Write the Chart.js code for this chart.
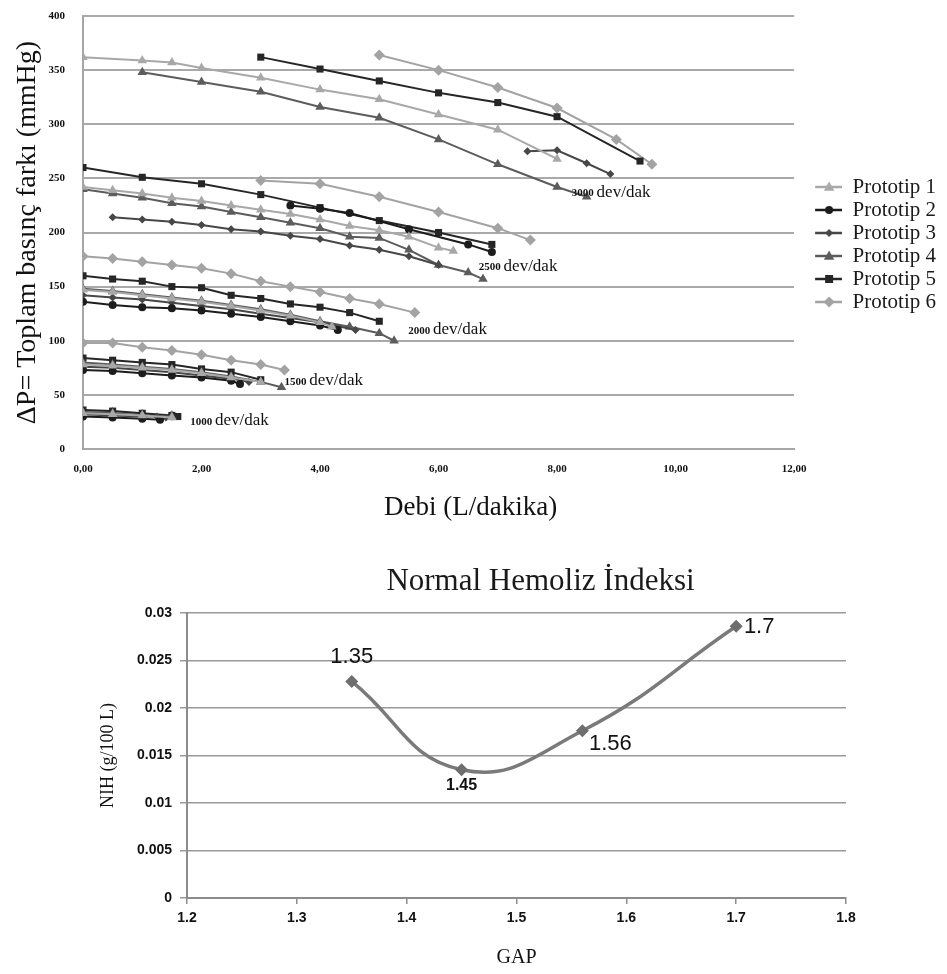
<!DOCTYPE html>
<html>
<head>
<meta charset="utf-8">
<script src="https://cdn.jsdelivr.net/npm/chart.js@4.4.0/dist/chart.umd.min.js"></script>
<style>
  body { margin: 0; background: #fff; }
  canvas { display: block; }
</style>
</head>
<body>
<canvas id="basinc" width="947" height="540"></canvas>
<canvas id="hemoliz" width="947" height="434"></canvas>
<script>
// ── Data: pressure head vs flow, one array pair per prototype (null = break between rpm groups) ──
const p1Debi   = [0, 1, 1.5, 2, 3, 4, 5, 6, 7, 8, null, 0, 0.5, 1, 1.5, 2, 2.5, 3, 3.5, 4, 4.5, 5, 5.5, 6, 6.25, null, 0, 0.5, 1, 1.5, 2, 2.5, 3, 3.5, 4, 4.2, null, 0, 0.5, 1, 1.5, 2, 2.5, 3, null, 0, 0.5, 1, 1.5];
const p1Basinc = [362, 359, 357, 352, 343, 332, 323, 309, 295, 268, null, 242, 239, 236, 232, 229, 225, 221, 217, 212, 206, 202, 196, 186, 183, null, 147, 145, 142, 139, 136, 132, 128, 123, 117, 113, null, 78, 77, 75, 73, 70, 66, 62, null, 33, 32, 31, 29];

const p2Debi   = [3.5, 4, 4.5, 5.5, 6.5, 6.9, null, 0, 0.5, 1, 1.5, 2, 2.5, 3, 3.5, 4, 4.3, null, 0, 0.5, 1, 1.5, 2, 2.5, 2.65, null, 0, 0.5, 1, 1.3];
const p2Basinc = [225, 222, 218, 203, 189, 182, null, 136, 133, 131, 130, 128, 125, 122, 118, 114, 110, null, 73, 72, 70, 68, 66, 63, 60, null, 30, 29, 28, 27];

const p3Debi   = [7.5, 8, 8.5, 8.9, null, 0.5, 1, 1.5, 2, 2.5, 3, 3.5, 4, 4.5, 5, 5.5, 6, null, 0, 0.5, 1, 1.5, 2, 2.5, 3, 3.5, 4, 4.6, null, 0, 0.5, 1, 1.5, 2, 2.5, 2.8, null, 0, 0.5, 1, 1.25, 1.4];
const p3Basinc = [275, 276, 264, 254, null, 214, 212, 210, 207, 203, 201, 197, 194, 188, 184, 178, 170, null, 142, 140, 138, 135, 132, 129, 125, 121, 117, 110, null, 76, 75, 73, 71, 68, 65, 62, null, 32, 31, 30, 30, 29];

const p4Debi   = [1, 2, 3, 4, 5, 6, 7, 8, 8.5, null, 0, 0.5, 1, 1.5, 2, 2.5, 3, 3.5, 4, 4.5, 5, 5.5, 6, 6.5, 6.75, null, 0, 0.5, 1, 1.5, 2, 2.5, 3, 3.5, 4, 4.5, 5, 5.25, null, 0, 0.5, 1, 1.5, 2, 2.5, 3, 3.35, null, 0, 0.5, 1, 1.5];
const p4Basinc = [348, 339, 330, 316, 306, 286, 263, 242, 233, null, 240, 236, 232, 227, 224, 219, 214, 209, 204, 196, 195, 184, 170, 163, 157, null, 148, 146, 143, 140, 137, 133, 129, 124, 118, 113, 107, 100, null, 80, 78, 76, 74, 71, 67, 62, 57, null, 34, 33, 31, 30];

const p5Debi   = [3, 4, 5, 6, 7, 8, 9.4, null, 0, 1, 2, 3, 4, 5, 6, 6.9, null, 0, 0.5, 1, 1.5, 2, 2.5, 3, 3.5, 4, 4.5, 5, null, 0, 0.5, 1, 1.5, 2, 2.5, 3, null, 0, 0.5, 1, 1.5, 1.6];
const p5Basinc = [362, 351, 340, 329, 320, 307, 266, null, 260, 251, 245, 235, 223, 211, 200, 189, null, 160, 157, 155, 150, 149, 142, 139, 134, 131, 126, 118, null, 84, 82, 80, 78, 74, 71, 64, null, 36, 35, 33, 31, 30];

const p6Debi   = [5, 6, 7, 8, 9, 9.6, null, 3, 4, 5, 6, 7, 7.55, null, 0, 0.5, 1, 1.5, 2, 2.5, 3, 3.5, 4, 4.5, 5, 5.6, null, 0, 0.5, 1, 1.5, 2, 2.5, 3, 3.4, null, 0, 0.5, 1, 1.5];
const p6Basinc = [364, 350, 334, 315, 286, 263, null, 248, 245, 233, 219, 204, 193, null, 178, 176, 173, 170, 167, 162, 155, 150, 145, 139, 134, 126, null, 98, 98, 94, 91, 87, 82, 78, 73, null, 35, 34, 32, 31];

const prototypes = ["Prototip 1", "Prototip 2", "Prototip 3", "Prototip 4", "Prototip 5", "Prototip 6"];
const rpmLabels = ["3000", "2500", "2000", "1500", "1000"];
const yTicks1 = [0, 50, 100, 150, 200, 250, 300, 350, 400];

// ── Data: normal hemolysis index vs gap ──
const gap = [1.35, 1.45, 1.56, 1.7];
const nih = [0.0228, 0.0135, 0.0176, 0.0286];

// styles (kept apart from the data)
const seriesStyle = [
  { color: "#a8a8a8", shape: "triangle", r: 5.5 },
  { color: "#1c1c1c", shape: "circle",   r: 4 },
  { color: "#474747", shape: "rectRot",  r: 4 },
  { color: "#5c5c5c", shape: "triangle", r: 5.5 },
  { color: "#262626", shape: "rect",     r: 5 },
  { color: "#a3a3a3", shape: "rectRot",  r: 5.5 },
];
// rpm label anchors in data units (debi, basinc)
const rpmAnchor = [[8.25, 237], [6.68, 169], [5.49, 110], [3.40, 63], [1.81, 26]];

const serif = "'Liberation Serif', 'Times New Roman', serif";
const narrow = "'Liberation Sans Narrow', 'Liberation Sans', Arial, sans-serif";
Chart.defaults.font.family = serif;
Chart.defaults.color = "#111";

function toPoints(xs, ys) {
  return xs.map((x, i) => ({ x: x, y: ys[i] }));
}

function drawShape(g, shape, x, y, r) {
  g.beginPath();
  if (shape === "circle") {
    g.arc(x, y, r, 0, Math.PI * 2);
  } else if (shape === "triangle") {
    g.moveTo(x, y - r);
    g.lineTo(x + r * 0.95, y + r * 0.7);
    g.lineTo(x - r * 0.95, y + r * 0.7);
    g.closePath();
  } else if (shape === "rectRot") {
    g.moveTo(x, y - r); g.lineTo(x + r, y); g.lineTo(x, y + r); g.lineTo(x - r, y);
    g.closePath();
  } else {
    g.rect(x - r * 0.8, y - r * 0.8, r * 1.6, r * 1.6);
  }
  g.fill();
}

// legend icon: short line with marker, drawn in the right part of the box
function legendIcon(st) {
  const c = document.createElement("canvas");
  c.width = 46; c.height = 16;
  const g = c.getContext("2d");
  g.strokeStyle = st.color; g.fillStyle = st.color; g.lineWidth = 2.5;
  g.beginPath(); g.moveTo(19, 8); g.lineTo(46, 8); g.stroke();
  drawShape(g, st.shape, 33, 8, st.r);
  return c;
}
const icons = seriesStyle.map(legendIcon);

const series = [
  toPoints(p1Debi, p1Basinc), toPoints(p2Debi, p2Basinc), toPoints(p3Debi, p3Basinc),
  toPoints(p4Debi, p4Basinc), toPoints(p5Debi, p5Basinc), toPoints(p6Debi, p6Basinc),
];

// ── rpm group labels + x title (drawn a bit right of the plot centre, as in the source) ──
const xTitle1 = "Debi (L/dakika)";
const rpmLabelPlugin = {
  id: "rpmLabels",
  afterDatasetsDraw(chart) {
    const { ctx, chartArea, scales: { x, y } } = chart;
    ctx.save();
    ctx.fillStyle = "#111";
    ctx.textBaseline = "middle";
    rpmLabels.forEach((txt, i) => {
      const px = x.getPixelForValue(rpmAnchor[i][0]);
      const py = y.getPixelForValue(rpmAnchor[i][1]);
      ctx.font = "bold 11px " + serif;
      ctx.fillText(txt, px, py + 1);
      const w = ctx.measureText(txt + " ").width;
      ctx.font = "17px " + serif;
      ctx.fillText("dev/dak", px + w, py);
    });
    ctx.font = "27px " + serif;
    ctx.textAlign = "center";
    ctx.fillText(xTitle1, (chartArea.left + chartArea.right) / 2 + 32, chartArea.bottom + 59);
    ctx.restore();
  },
};

new Chart(document.getElementById("basinc"), {
  type: "scatter",
  data: {
    datasets: series.map((pts, i) => ({
      label: prototypes[i],
      data: pts,
      showLine: true,
      borderColor: seriesStyle[i].color,
      backgroundColor: seriesStyle[i].color,
      borderWidth: 2,
      pointStyle: seriesStyle[i].shape,
      pointRadius: seriesStyle[i].r,
      pointBorderWidth: 0,
      spanGaps: false,
    })),
  },
  options: {
    responsive: false,
    animation: false,
    devicePixelRatio: 1,
    layout: { padding: { top: 16, right: 1, bottom: 0, left: 0 } },
    plugins: {
      tooltip: { enabled: false },
      legend: {
        position: "right",
        fullSize: false,
        title: { display: true, text: " ", font: { size: 10 }, padding: 6 },
        labels: {
          usePointStyle: true,
          pointStyleWidth: 46,
          padding: 2,
          color: "#1a1a1a",
          font: { size: 21, family: serif },
          generateLabels(chart) {
            const items = Chart.defaults.plugins.legend.labels.generateLabels(chart);
            items.forEach((it, i) => { it.pointStyle = icons[i]; });
            return items;
          },
        },
      },
    },
    scales: {
      x: {
        type: "linear",
        min: 0, max: 12,
        afterFit(s) { s.height = 91; },
        ticks: {
          stepSize: 2,
          padding: 14,
          color: "#111",
          font: { size: 11, weight: "bold", family: serif },
          callback: (v) => v.toFixed(2).replace(".", ","),
        },
        grid: { display: false, drawTicks: false },
        border: { color: "#a6a6a6", width: 2 },
      },
      y: {
        type: "linear",
        min: 0, max: 400,
        afterFit(s) { s.width = 83; },
        afterBuildTicks(s) { s.ticks = yTicks1.map((v) => ({ value: v })); },
        ticks: {
          padding: 9,
          color: "#111",
          font: { size: 11, weight: "bold", family: serif },
        },
        grid: { color: "#a9a9a9", lineWidth: 2, drawTicks: true, tickLength: 9, tickColor: "rgba(0,0,0,0)" },
        border: { color: "#a6a6a6", width: 2 },
        title: {
          display: true,
          text: "ΔP= Toplam basınç farkı (mmHg)",
          color: "#111",
          font: { size: 28, family: serif },
          padding: { top: 11, bottom: 0 },
        },
      },
    },
  },
  plugins: [rpmLabelPlugin],
});

// ── Hemolysis chart ──
const nihTitle = "Normal Hemoliz İndeksi";
const nihLabelOffset = [[0, -24], [0, 16], [28, 13], [23, 1]];
const nihLabelSize = [22, 16, 22, 22];

const nihLabelPlugin = {
  id: "nihLabels",
  afterDatasetsDraw(chart) {
    const { ctx } = chart;
    const meta = chart.getDatasetMeta(0);
    ctx.save();
    ctx.fillStyle = "#111";
    ctx.textAlign = "center";
    ctx.textBaseline = "middle";
    meta.data.forEach((pt, i) => {
      ctx.font = (i === 1 ? "bold " : "") + nihLabelSize[i] + "px " + (i === 1 ? narrow : "'Liberation Sans', Arial, sans-serif");
      ctx.fillText(String(gap[i]), pt.x + nihLabelOffset[i][0], pt.y + nihLabelOffset[i][1]);
    });
    ctx.restore();
  },
};

// title drawn a little right of the plot centre, as in the source figure
const nihTitlePlugin = {
  id: "nihTitle",
  afterDraw(chart) {
    const { ctx, chartArea } = chart;
    ctx.save();
    ctx.fillStyle = "#1a1a1a";
    ctx.font = "31px " + serif;
    ctx.textAlign = "center";
    ctx.textBaseline = "middle";
    ctx.fillText(nihTitle, (chartArea.left + chartArea.right) / 2 + 24, chartArea.top - 31);
    ctx.restore();
  },
};

new Chart(document.getElementById("hemoliz"), {
  type: "scatter",
  data: {
    datasets: [{
      label: "NIH",
      data: toPoints(gap, nih),
      showLine: true,
      tension: 0.45,
      borderColor: "#7a7a7a",
      backgroundColor: "#6e6e6e",
      borderWidth: 3.5,
      pointStyle: "rectRot",
      pointRadius: 6.5,
      pointBorderWidth: 0,
    }],
  },
  options: {
    responsive: false,
    animation: false,
    devicePixelRatio: 1,
    layout: { padding: { top: 73, right: 101, bottom: 0, left: 0 } },
    plugins: {
      tooltip: { enabled: false },
      legend: { display: false },
    },
    scales: {
      x: {
        type: "linear",
        min: 1.2, max: 1.8,
        afterFit(s) { s.height = 76; },
        ticks: {
          stepSize: 0.1,
          padding: 6,
          color: "#111",
          font: { size: 14, weight: "bold", family: narrow },
          callback: (v) => v.toFixed(1),
        },
        grid: { drawOnChartArea: false, drawTicks: true, tickLength: 6, color: "#8c8c8c", lineWidth: 1.5 },
        border: { color: "#8c8c8c", width: 2 },
        title: {
          display: true,
          text: "GAP",
          color: "#111",
          font: { size: 20, family: serif },
          padding: { top: 0, bottom: 4 },
        },
      },
      y: {
        type: "linear",
        min: 0, max: 0.03,
        afterFit(s) { s.width = 187; },
        ticks: {
          stepSize: 0.005,
          padding: 8,
          color: "#111",
          font: { size: 14, weight: "bold", family: narrow },
          callback: (v) => String(+v.toFixed(3)),
        },
        grid: { color: "#9a9a9a", lineWidth: 1.5, tickLength: 7 },
        border: { color: "#8c8c8c", width: 2 },
        title: {
          display: true,
          text: "NIH (g/100 L)",
          color: "#111",
          font: { size: 18, family: serif },
          padding: { top: 97, bottom: 0 },
        },
      },
    },
  },
  plugins: [nihLabelPlugin, nihTitlePlugin],
});
</script>
</body>
</html>
